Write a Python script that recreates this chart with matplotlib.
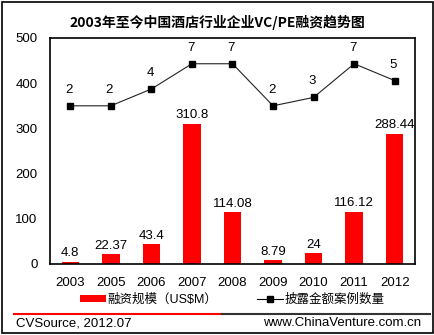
import matplotlib
matplotlib.use("Agg")
import matplotlib.pyplot as plt
from matplotlib.lines import Line2D
from matplotlib.patches import Rectangle, Patch

plt.rcParams['font.family'] = ['Liberation Sans', 'Noto Sans CJK SC', 'DejaVu Sans']

years = ['2003', '2005', '2006', '2007', '2008', '2009', '2010', '2011', '2012']
amounts = [4.8, 22.37, 43.4, 310.8, 114.08, 8.79, 24, 116.12, 288.44]
amount_labels = ['4.8', '22.37', '43.4', '310.8', '114.08', '8.79', '24', '116.12', '288.44']
cases = [2, 2, 4, 7, 7, 2, 3, 7, 5]
title = '2003年至今中国酒店行业企业VC/PE融资趋势图'
bar_name = '融资规模（US$M）'
line_name = '披露金额案例数量'
left_yticks = [0, 100, 200, 300, 400, 500]

W, H = 435, 335
fig = plt.figure(figsize=(W / 100, H / 100), dpi=100)

ax = fig.add_axes([50 / W, 1 - 264 / H, 365 / W, 226 / H])
x = [i + 0.5 for i in range(len(years))]
bars = ax.bar(x, amounts, width=0.43, color='#ff0000', zorder=2)
ax.set_xlim(0, len(years))
ax.set_ylim(0, 500)
ax.set_yticks(left_yticks)
ax.set_xticks(x)
ax.set_xticklabels(years)
ax.tick_params(axis='both', length=0, labelsize=9.5, colors='black')
ax.tick_params(axis='y', pad=9)
ax.tick_params(axis='x', pad=9)
for s in ax.spines.values():
    s.set_linewidth(1.2)
    s.set_color('black')
for xi, v, lab in zip(x, amounts, amount_labels):
    ax.annotate(lab, (xi, v), xytext=(0, 6), textcoords='offset points',
                ha='center', va='center', fontsize=9.5)

ax2 = ax.twinx()
ax2.set_ylim(-16.8, 10.06)
ax2.set_yticks([])
for s in ax2.spines.values():
    s.set_visible(False)
ln, = ax2.plot(x, cases, color='#222222', lw=0.8, marker='s', markersize=4.5,
               markerfacecolor='black', markeredgecolor='black', zorder=3)
for xi, c in zip(x, cases):
    ax2.annotate(str(c), (xi, c), xytext=(-1, 11.5), textcoords='offset points',
                 ha='center', va='center', fontsize=9.5)

fig.text(0.5, 1 - 22 / H, title, ha='center', va='center', fontsize=10,
         fontweight='bold', family=['Noto Sans CJK SC', 'DejaVu Sans'])

handles = [Patch(facecolor='#ff0000', edgecolor='none'),
           Line2D([], [], color='black', lw=0.8, marker='s', markersize=4.5)]
fig.legend(handles, [bar_name, line_name], loc='center',
           bbox_to_anchor=(232 / W, 1 - 300 / H), ncol=2, frameon=False,
           fontsize=9, handlelength=2.1, handleheight=0.5, handletextpad=0.1,
           columnspacing=3.2, borderpad=0)

fig.add_artist(Line2D([14 / W, 222 / W], [1 - 314 / H, 1 - 314 / H],
                      color='#ff0000', lw=1.5))
fig.add_artist(Line2D([222 / W, 430 / W], [1 - 314 / H, 1 - 314 / H],
                      color='#333333', lw=1.5))
fig.text(16 / W, 1 - 323 / H, 'CVSource, 2012.07', ha='left', va='center', fontsize=9.5)
fig.text(421 / W, 1 - 323 / H, 'www.ChinaVenture.com.cn', ha='right', va='center', fontsize=9.5)

fig.add_artist(Rectangle((2 / W, 2 / H), 431 / W, 331 / H, transform=fig.transFigure,
                         fill=False, edgecolor='black', lw=1.2))

fig.savefig('out.png', dpi=100)
